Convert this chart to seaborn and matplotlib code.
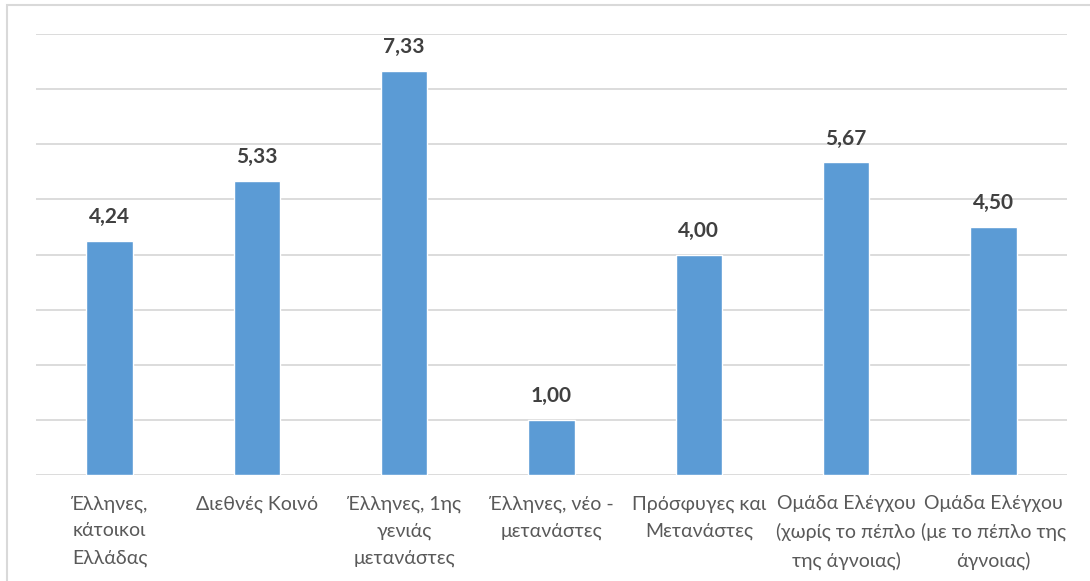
import matplotlib
matplotlib.use('Agg')
import matplotlib.pyplot as plt
import seaborn as sns
import pandas as pd

# Data
categories = [
    'Έλληνες,\nκάτοικοι\nΕλλάδας',
    'Διεθνές Κοινό',
    'Έλληνες, 1ης\nγενιάς\nμετανάστες',
    'Έλληνες, νέο -\nμετανάστες',
    'Πρόσφυγες και\nΜετανάστες',
    'Ομάδα Ελέγχου\n(χωρίς το πέπλο\nτης άγνοιας)',
    'Ομάδα Ελέγχου\n(με το πέπλο της\nάγνοιας)',
]
values = [4.24, 5.33, 7.33, 1.00, 4.00, 5.67, 4.50]

df = pd.DataFrame({'group': categories, 'score': values})

sns.set_style('white')
plt.rcParams['font.family'] = ['Lato', 'DejaVu Sans']

fig = plt.figure(figsize=(10.9, 5.81), dpi=100)
ax = fig.add_axes([36 / 1090, 1 - 475 / 581, (1067 - 36) / 1090, (475 - 34) / 581])

sns.barplot(data=df, x='group', y='score', color='#5B9BD5', saturation=1,
            width=0.315, ax=ax)

# value labels with comma decimals
labels = [f'{v:.2f}'.replace('.', ',') for v in values]
ax.bar_label(ax.containers[0], labels=labels, padding=10, fontsize=15,
             fontweight='bold', color='#404040')

ax.set_ylim(0, 8)
ax.set_yticks(range(0, 9))
ax.yaxis.grid(True, color='#D9D9D9', linewidth=1.3)
ax.set_axisbelow(True)
ax.tick_params(axis='y', left=False, labelleft=False)
ax.tick_params(axis='x', bottom=False, pad=11, labelsize=14, labelcolor='#595959')
for lbl in ax.get_xticklabels():
    lbl.set_linespacing(1.7)
for s in ax.spines.values():
    s.set_visible(False)
ax.set_xlabel('')
ax.set_ylabel('')

# light frame around the chart area
fig.patches.append(plt.Rectangle((7 / 1090, -0.05), 1.1, 1 - 5 / 581 + 0.05,
                                 transform=fig.transFigure, fill=False,
                                 edgecolor='#D9D9D9', linewidth=1.5))

fig.savefig('out.png', dpi=100)
